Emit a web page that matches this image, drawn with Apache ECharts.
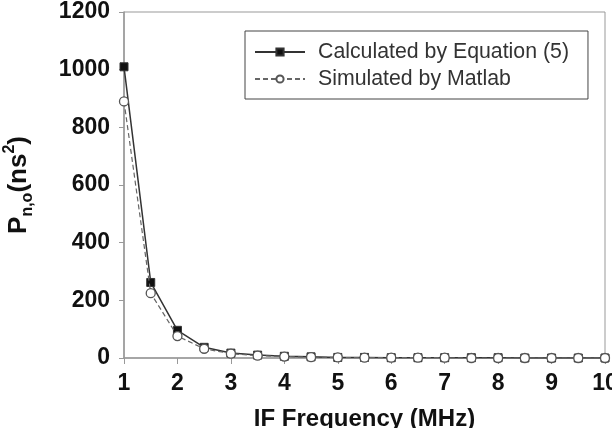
<!DOCTYPE html>
<html>
<head>
<meta charset="utf-8">
<script src="https://cdn.jsdelivr.net/npm/echarts@6/dist/echarts.min.js"></script>
<style>
html,body{margin:0;padding:0;background:#fff;}
#chart{width:612px;height:428px;}
</style>
</head>
<body>
<div id="chart"></div>
<script>
const xValues = [1, 1.5, 2, 2.5, 3, 3.5, 4, 4.5, 5, 5.5, 6, 6.5, 7, 7.5, 8, 8.5, 9, 9.5, 10];
const calculated = [1010, 262, 96, 37, 17, 10, 6, 4, 2, 2, 1, 1, 1, 1, 1, 0, 0, 0, 0];
const simulated = [890, 225, 76, 32, 15, 8, 5, 3, 2, 1, 1, 1, 1, 0, 0, 0, 0, 0, 0];
const seriesNames = ['Calculated by Equation (5)', 'Simulated by Matlab'];
const xTitle = 'IF Frequency (MHz)';

const font = '"Liberation Sans", Arial, sans-serif';
const chart = echarts.init(document.getElementById('chart'), null, {renderer: 'canvas'});
chart.setOption({
  animation: false,
  backgroundColor: '#fff',
  grid: {left: 124, right: 7, top: 12, bottom: 70, show: true, borderColor: '#999', borderWidth: 1, containLabel: false, outerBoundsMode: 'none'},
  legend: {
    orient: 'vertical',
    left: 245, top: 31,
    padding: [10, 19, 9, 9],
    itemGap: 5,
    itemWidth: 50, itemHeight: 9,
    borderColor: '#444', borderWidth: 1,
    backgroundColor: '#fff',
    textStyle: {fontFamily: font, fontSize: 21.3, color: '#333', lineHeight: 22, padding: [0, 0, 0, 8]},
    data: seriesNames
  },
  xAxis: {
    type: 'value', min: 1, max: 10, interval: 1,
    name: xTitle, nameLocation: 'middle', nameGap: 49,
    nameTextStyle: {fontFamily: font, fontSize: 24, fontWeight: 'bold', color: '#111'},
    axisLine: {lineStyle: {color: '#999', width: 1.5}},
    axisTick: {inside: false, length: 6, lineStyle: {color: '#999'}},
    axisLabel: {fontFamily: font, fontSize: 23, fontWeight: 'bold', color: '#111', margin: 14},
    splitLine: {show: false}
  },
  yAxis: {
    type: 'value', min: 0, max: 1200, interval: 200,
    name: '{b|P}{sub|n,o}{b|(ns}{sup|2}{b|)}',
    nameLocation: 'middle', nameGap: 88, nameRotate: 90,
    nameTextStyle: {
      fontFamily: font, fontSize: 26, fontWeight: 'bold', color: '#111',
      rich: {
        b: {fontFamily: font, fontSize: 26, fontWeight: 'bold', color: '#111', lineHeight: 34},
        sub: {fontFamily: font, fontSize: 16, fontWeight: 'bold', color: '#111', lineHeight: 16, verticalAlign: 'bottom'},
        sup: {fontFamily: font, fontSize: 16, fontWeight: 'bold', color: '#111', lineHeight: 16, verticalAlign: 'top'}
      }
    },
    axisLine: {show: true, lineStyle: {color: '#999', width: 1.5}},
    axisTick: {show: true, inside: false, length: 5, lineStyle: {color: '#999'}},
    axisLabel: {fontFamily: font, fontSize: 23, fontWeight: 'bold', color: '#111', margin: 14, formatter: v => String(v)},
    splitLine: {show: false}
  },
  series: [
    {
      name: seriesNames[0], type: 'line',
      data: xValues.map((x, i) => [x, calculated[i]]),
      symbol: 'rect', symbolSize: 8, showAllSymbol: true,
      lineStyle: {color: '#333', width: 1.5},
      itemStyle: {color: '#111', borderColor: '#333', borderWidth: 1},
      z: 2
    },
    {
      name: seriesNames[1], type: 'line',
      data: xValues.map((x, i) => [x, simulated[i]]),
      symbol: 'circle', symbolSize: 9, showAllSymbol: true,
      lineStyle: {color: '#666', width: 1.2, type: [5, 3]},
      itemStyle: {color: '#fff', borderColor: '#555', borderWidth: 1.3},
      z: 3
    }
  ]
});
</script>
</body>
</html>
